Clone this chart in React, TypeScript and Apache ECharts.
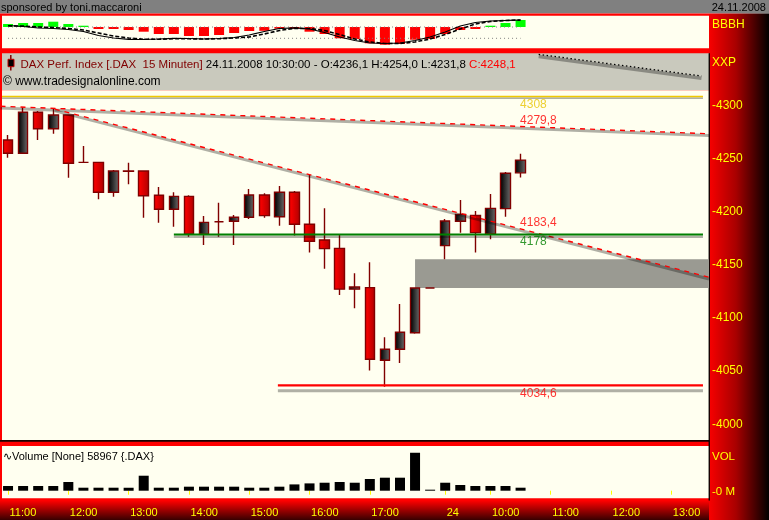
import React, { useEffect, useRef } from 'react';
import * as echarts from 'echarts';

// ---------- DATA ----------
const times = [
  '11:00', '11:15', '11:30', '11:45', '12:00', '12:15', '12:30', '12:45', '13:00', '13:15', '13:30', '13:45',
  '14:00', '14:15', '14:30', '14:45', '15:00', '15:15', '15:30', '15:45', '16:00', '16:15', '16:30', '16:45',
  '17:00', '17:15', '17:30', '17:45', '18:00',
  '09:15', '09:30', '09:45', '10:00', '10:15', '10:30', '10:45', '11:00', '11:15', '11:30', '11:45',
  '12:00', '12:15', '12:30', '12:45', '13:00', '13:15', '13:30',
];
const xLabelIdx = [0, 4, 8, 12, 16, 20, 24, 29, 32, 36, 40, 44];
const xLabels = ['11:00', '12:00', '13:00', '14:00', '15:00', '16:00', '17:00', '24', '10:00', '11:00', '12:00', '13:00'];

const opens = [4267, 4254.5, 4293.1, 4277.7, 4290.6, 4246, 4246, 4217.8, 4237.5, 4237.9, 4215, 4201.8, 4214, 4178.3, 4190, 4190.6, 4194.3, 4215.3, 4194.8, 4217.8, 4187.7, 4172.9, 4165, 4126.6, 4128, 4059.7, 4070, 4085.6, 4127.7, 4167.6, 4190.6, 4196, 4178.5, 4202.4, 4236.1];
const highs = [4271.8, 4297.8, 4294.4, 4296.2, 4291, 4261.4, 4246.5, 4238.8, 4245.7, 4238, 4222.8, 4217.8, 4215, 4195.4, 4208, 4196.4, 4220.9, 4216.9, 4223.7, 4219, 4234.1, 4202.7, 4177.6, 4141.5, 4151.9, 4081.3, 4112.6, 4128, 4127.7, 4192.7, 4210.5, 4200.2, 4216.2, 4236.9, 4254.0];
const lows = [4250.4, 4254.5, 4267, 4273, 4231.5, 4246, 4211.2, 4213.7, 4225.3, 4193.9, 4189.2, 4185.4, 4176, 4168.2, 4176, 4168.2, 4192.7, 4193.9, 4186.4, 4177, 4161, 4145.9, 4121, 4108.6, 4049.9, 4034.6, 4057, 4084.7, 4127.7, 4154.8, 4179.8, 4161, 4173.6, 4194.8, 4231.8];
const closes = [4254.5, 4293.1, 4277.7, 4290.6, 4245.1, 4246, 4217.8, 4237.9, 4237.9, 4214.6, 4201.8, 4214, 4178.3, 4189.5, 4190, 4194.3, 4215.3, 4195.8, 4217.8, 4187.7, 4171.7, 4164.8, 4126.6, 4128.6, 4060.6, 4070, 4086, 4127.7, 4127.7, 4190.8, 4197, 4179.8, 4202.7, 4235.7, 4248.1];

const volumes = [92000, 92000, 92000, 92000, 171000, 59000, 59000, 59000, 59000, 295000, 59000, 59000, 79000, 79000, 79000, 79000, 59000, 59000, 79000, 124000, 144000, 157000, 171000, 157000, 230000, 256000, 256000, 747000, 20000, 157000, 112000, 92000, 92000, 92000, 58967];

// BBBH indicator (histogram + two oscillator lines + two reference levels)
const histo = [3, 4, 4, 5.3, 3, 1.3, -2, -2, -3, -4.7, -7, -7, -9, -9, -8, -6, -4, -3.8, -1.7, -1.7, -4.7, -7, -11.3, -12, -16.3, -17.7, -17, -12.7, -12, -7, -3, -2, 1.3, 4, 7];
const oscA = [1.5, 0.5, -1, -1.5, -2.5, -4.5, -8.5, -11, -12.3, -12.5, -12, -11.3, -11.5, -12, -11.5, -10.5, -8, -4.5, -1.5, -0.8, -2, -5.5, -10, -13.5, -16, -16.5, -16, -13.5, -10, -5, 1, 4.5, 6, 6.5, 7];
const oscB = [1.2, 1, 0, -0.5, -1.5, -3, -6, -9, -11, -12.3, -12.3, -11.8, -11.8, -12, -11.7, -11, -10, -7, -3.5, -1.3, -1.5, -3.5, -7.5, -12, -15, -16.5, -16.5, -15, -12, -7.5, -2, 3, 5.5, 6.5, 7];
const oscLevels = [0, -11.3];

// drawing tools (category index, price)
const line4308 = [[-0.4, 4308], [46.1, 4308]];
const trendUpper = [[-0.5, 4298.8], [46.5, 4272.9]];
const trendLower = [[3.1, 4296.1], [46.5, 4137.8]];
const support4178 = [[11, 4178], [46.1, 4178]];
const low4034 = [[17.9, 4036], [46.1, 4036]];
const headerTrend = [[35.2, 4347.7], [46.0, 4327.3]];
const gapZone = [[27, 4127.7, 46.5, 4154.8]];
const levelLabels = [4308, 4279.8, 4183.4, 4178, 4034.6];

const yTicks = [4000, 4050, 4100, 4150, 4200, 4250, 4300];
const volumeNow = 58967;

// ---------- STYLE ----------
const FONT = '"Liberation Sans", Arial, sans-serif';
const Y_MIN = 3984.55;
const Y_MAX = 4314.12;
const MAIN_TOP = 90;
const MAIN_H = 350;
const PX_PER_PT = MAIN_H / (Y_MAX - Y_MIN);
const VOL_MAX = 880000;
const SHADOW = 'rgba(0,0,0,0.31)';
const CREAM = '#fffff0';
const YELLOW = '#ffff00';

const fmt = (v: number) => v.toFixed(1).replace('.', ',');
const fmtLevel = (v: number) => (Number.isInteger(v) ? String(v) : fmt(v));
const shift = (pts: number[][], px: number) => pts.map(([x, v]) => [x, v - px / PX_PER_PT]);
const isLabelled = (i: number) => xLabelIdx.indexOf(i) >= 0;

function lineSeries(points: number[][], color: string, width: number, type: any = 'solid', z = 4) {
  return {
    type: 'line', xAxisIndex: 2, yAxisIndex: 1, data: points, symbol: 'none', clip: false,
    silent: true, z, lineStyle: { color, width, type, cap: 'butt' },
  };
}

function buildOption(): any {
  const last = opens.length - 1;
  const labelColors = ['#e8c400', '#ff0000', '#ff0000', '#008000', '#ff0000'];
  const labelDy = [8.5, -6.4, -6.3, 7.4, 7.1];

  const series: any[] = [
    // ---- indicator panel ----
    {
      type: 'bar', xAxisIndex: 0, yAxisIndex: 0, barWidth: 10,
      data: histo.map((v) => ({ value: v, itemStyle: { color: v >= 0 ? '#00ff00' : '#ff0000' } })),
    },
    ...oscLevels.map((lv) => ({
      type: 'line', xAxisIndex: 0, yAxisIndex: 0, data: [[0, lv], [34, lv]], symbol: 'none', silent: true,
      lineStyle: { color: '#808080', width: 1, type: [1, 3] },
    })),
    { type: 'line', xAxisIndex: 0, yAxisIndex: 0, data: oscB, symbol: 'none', silent: true, lineStyle: { color: '#000', width: 1.6, type: [4, 2] } },
    { type: 'line', xAxisIndex: 0, yAxisIndex: 0, data: oscA, symbol: 'none', silent: true, lineStyle: { color: '#000', width: 1.2 } },

    // ---- main panel ----
    {
      type: 'custom', xAxisIndex: 2, yAxisIndex: 1, data: gapZone, silent: true, z: 1,
      renderItem: (params: any, api: any) => {
        const p1 = api.coord([api.value(0), api.value(3)]);
        const p2 = api.coord([api.value(2), api.value(1)]);
        return { type: 'rect', shape: { x: p1[0], y: p1[1], width: p2[0] - p1[0], height: p2[1] - p1[1] }, style: { fill: '#9a9a92' } };
      },
    },
    {
      type: 'candlestick', xAxisIndex: 1, yAxisIndex: 1, barWidth: 10, z: 2,
      data: opens.map((o, i) => [o, closes[i], lows[i], highs[i]]),
      itemStyle: {
        color: { type: 'linear', x: 0, y: 0, x2: 1, y2: 0, colorStops: [{ offset: 0, color: '#000000' }, { offset: 1, color: '#686868' }] },
        color0: { type: 'linear', x: 0, y: 0, x2: 1, y2: 0, colorStops: [{ offset: 0, color: '#ff0000' }, { offset: 1, color: '#b40000' }] },
        borderColor: '#800000', borderColor0: '#800000', borderWidth: 1.4,
      },
    },
    lineSeries(shift(line4308, 1.6), SHADOW, 1.6),
    lineSeries(line4308, '#f0c800', 1.5),
    lineSeries(shift(trendUpper, 1.8), SHADOW, 3),
    lineSeries(trendUpper, '#ff0000', 1.4, [5, 5]),
    lineSeries(shift(trendLower, 1.7), SHADOW, 3),
    lineSeries(trendLower, '#ff0000', 1.4, [5, 5]),
    lineSeries(shift(support4178, 2.2), SHADOW, 2.6),
    lineSeries(support4178, '#008000', 2),
    lineSeries(shift(low4034, 5.4), SHADOW, 3),
    lineSeries(low4034, '#ff0000', 2.2),
    lineSeries(shift(headerTrend, 2.2), SHADOW, 3.5),
    lineSeries(headerTrend, '#000000', 1.3, [1.5, 2.5]),
    {
      type: 'scatter', xAxisIndex: 2, yAxisIndex: 1, symbolSize: 1, silent: true, z: 6,
      itemStyle: { color: 'transparent' },
      data: levelLabels.map((v, i) => ({
        value: [last, v],
        label: {
          show: true, position: [0, 0], align: 'left', verticalAlign: 'middle', offset: [0, labelDy[i]],
          formatter: fmtLevel(v), color: labelColors[i], fontSize: 12, fontFamily: FONT,
        },
      })),
    },

    // ---- volume ----
    { type: 'bar', xAxisIndex: 3, yAxisIndex: 2, barWidth: 10, data: volumes, itemStyle: { color: '#000000' } },
  ];

  const headerText =
    '{a|DAX Perf. Index [.DAX  15 Minuten]}' +
    `{b| 24.11.2008 10:30:00 - O:${fmt(opens[last])} H:${fmt(highs[last])} L:${fmt(lows[last])} }` +
    `{c|C:${fmt(closes[last])}}`;

  const txt = (x: number, y: number, text: string, fill: string, fontSize = 12, align = 'left') => ({
    type: 'text', x, y, z: 50,
    style: { text, fill, fontSize, fontFamily: FONT, align, verticalAlign: 'middle' },
  });
  const bg = (x: number, y: number, w: number, h: number, fill: any) => ({
    type: 'rect', z: -10, shape: { x, y, width: w, height: h }, style: { fill }, silent: true,
  });

  const graphic: any[] = [
    bg(0, 0, 769, 13.5, '#808080'),
    bg(0, 13.5, 709, 487.5, '#ff0000'),
    bg(709, 13.5, 60, 506.5, new echarts.graphic.LinearGradient(0, 0, 1, 0, [
      { offset: 0, color: '#f80000' }, { offset: 0.45, color: '#a80000' }, { offset: 1, color: '#000000' },
    ])),
    bg(2, 15.7, 707, 32.6, CREAM),
    bg(2, 53.3, 707, 37, '#c9c9bd'),
    bg(2, 90.3, 707, 349.7, CREAM),
    bg(0, 440, 709, 1.8, '#1a0000'),
    bg(2, 446, 707, 52.3, CREAM),
    bg(0, 500.5, 709, 19.5, new echarts.graphic.LinearGradient(0, 0, 0, 1, [{ offset: 0, color: '#ff0000' }, { offset: 1, color: '#380000' }])),
    bg(708.6, 53.3, 1.3, 447.2, '#000000'),
    txt(1, 6.5, 'sponsored by toni.maccaroni', '#000000', 11),
    txt(766, 6.5, '24.11.2008', '#000000', 11, 'right'),
    txt(712, 24, 'BBBH', YELLOW, 12),
    txt(712, 61.5, 'XXP', YELLOW, 12),
    txt(712, 456, 'VOL', YELLOW, 11.5),
    txt(3, 456, `∿Volume [None] ${volumeNow} {.DAX}`, '#000000', 11),
    txt(3, 81, '© www.tradesignalonline.com', '#000000', 12),
    {
      type: 'text', x: 20.5, y: 63.5, z: 50,
      style: {
        text: headerText, verticalAlign: 'middle', fontSize: 11.5, fontFamily: FONT,
        rich: {
          a: { fill: '#800000', fontSize: 11.5, fontFamily: FONT },
          b: { fill: '#000000', fontSize: 11.5, fontFamily: FONT },
          c: { fill: '#ff0000', fontSize: 11.5, fontFamily: FONT },
        },
      },
    },
    { type: 'line', z: 50, shape: { x1: 10.8, y1: 55, x2: 10.8, y2: 70.5 }, style: { stroke: '#800000', lineWidth: 1.5 } },
    { type: 'rect', z: 51, shape: { x: 8, y: 59.3, width: 6, height: 7.4 }, style: { fill: '#000000', stroke: '#c00000', lineWidth: 1 } },
  ];

  return {
    animation: false,
    backgroundColor: 'transparent',
    textStyle: { fontFamily: FONT },
    grid: [
      { left: 0.5, top: 16, width: 708.5, height: 32, containLabel: false, outerBoundsMode: 'none' },
      { left: 0.5, top: MAIN_TOP, width: 708.5, height: MAIN_H, containLabel: false, outerBoundsMode: 'none' },
      { left: 0.5, top: 446, width: 708.5, height: 44.7, containLabel: false, outerBoundsMode: 'none' },
    ],
    xAxis: [
      { type: 'category', gridIndex: 0, data: times, show: false },
      { type: 'category', gridIndex: 1, data: times, show: false },
      { type: 'value', gridIndex: 1, min: -0.5, max: 46.5, show: false },
      {
        type: 'category', gridIndex: 2, data: times, offset: 11.3,
        axisLine: { show: false },
        axisTick: { show: true, alignWithLabel: true, interval: (i: number) => isLabelled(i), length: 4, lineStyle: { color: YELLOW, width: 1 } },
        axisLabel: {
          interval: (i: number) => isLabelled(i),
          formatter: (_v: string, i: number) => { const k = xLabelIdx.indexOf(i); return k >= 0 ? xLabels[k] : ''; },
          color: YELLOW, fontSize: 11, fontFamily: FONT, align: 'left', margin: 4, padding: [0, 0, 0, 1.5],
        },
        splitLine: { show: false },
      },
    ],
    yAxis: [
      { type: 'value', gridIndex: 0, min: -21, max: 11, show: false },
      {
        type: 'value', gridIndex: 1, min: Y_MIN, max: Y_MAX, position: 'right',
        axisLine: { show: false }, axisTick: { show: false }, splitLine: { show: false },
        axisLabel: { customValues: yTicks, formatter: (v: number) => '-' + v, color: YELLOW, fontSize: 12, fontFamily: FONT, margin: 3 },
      },
      {
        type: 'value', gridIndex: 2, min: 0, max: VOL_MAX, position: 'right',
        axisLine: { show: false }, axisTick: { show: false }, splitLine: { show: false },
        axisLabel: { customValues: [0], formatter: () => '-0 M', color: YELLOW, fontSize: 11.5, fontFamily: FONT, margin: 3 },
      },
    ],
    series,
    graphic,
  };
}

export default function App() {
  const ref = useRef<HTMLDivElement>(null);
  useEffect(() => {
    if (!ref.current) return;
    const chart = echarts.init(ref.current, undefined, { renderer: 'svg' });
    chart.setOption(buildOption());
    return () => chart.dispose();
  }, []);
  return <div ref={ref} style={{ position: 'fixed', left: 0, top: 0, width: 769, height: 520 }} />;
}
